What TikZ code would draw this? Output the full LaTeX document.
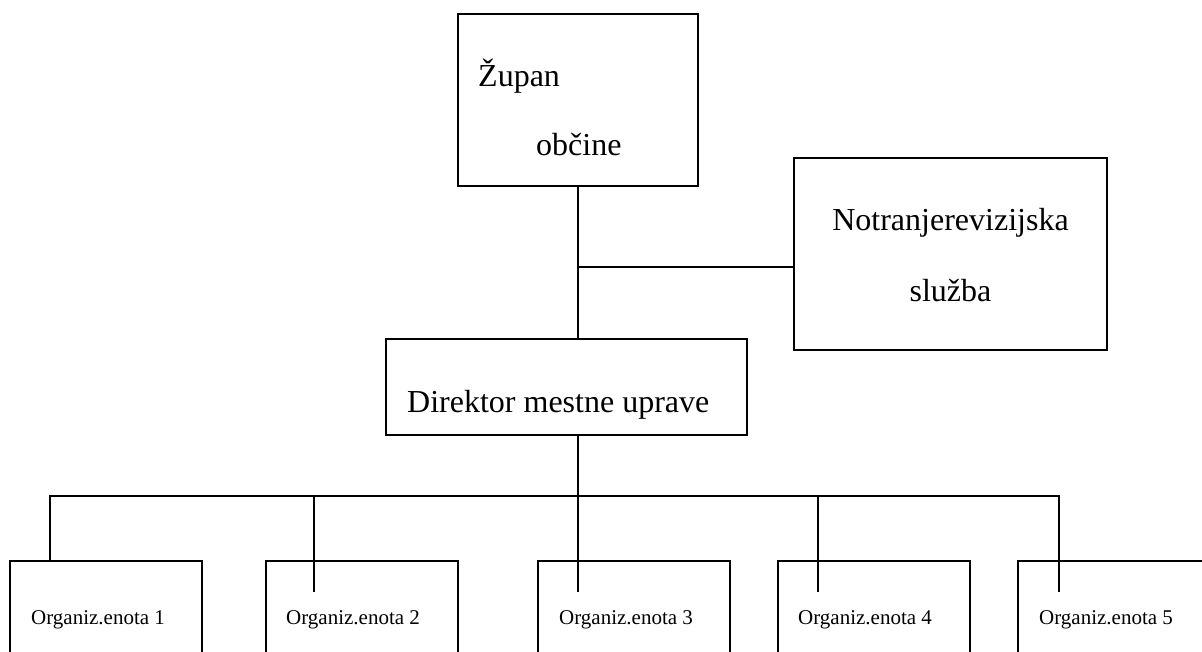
\documentclass[tikz,border=0pt]{standalone}
\usepackage{fontspec}
\setmainfont{Liberation Serif}
\begin{document}
\begin{tikzpicture}[x=1pt,y=-1pt,
  box/.style={draw, line width=1.6pt, inner sep=0pt, minimum width=#1},
  conn/.style={line width=1.6pt},
  big/.style={inner sep=0pt, anchor=base west, font=\fontsize{32}{38}\selectfont},
  small/.style={inner sep=0pt, anchor=base west, font=\fontsize{21}{25}\selectfont}]
\useasboundingbox (0,0) rectangle (1202,651);
\clip (0,0) rectangle (1202,651);
% top boxes
\node[box=240pt, minimum height=172pt] (zup) at (578,100) {};
\node[big] (zupt1) at (478,86) {Župan};
\node[big] (zupt2) at (536,155) {občine};
\node[box=313pt, minimum height=192pt] (notr) at (950.5,254) {};
\node[big, anchor=base] (notrt1) at (950.5,230) {Notranjerevizijska};
\node[big, anchor=base] (notrt2) at (950.5,301) {služba};
\node[box=361pt, minimum height=96pt] (dir) at (566.5,387) {};
\node[big] (dirt) at (407,412) {Direktor mestne uprave};
% bottom boxes
\foreach \i/\cx/\tx in {1/106/31, 2/362/286, 3/634/559, 4/874/798, 5/1114/1039}{
  \node[box=192pt, minimum height=120pt] (ou\i) at (\cx,621) {};
  \node[small] (out\i) at (\tx,624) {Organiz.enota \i};
}
% connectors
\coordinate (j1) at (578,267);
\coordinate (bus) at (578,496);
\draw[conn] (zup.south) -- (zup.south |- dir.north);
\draw[conn] (j1) -- (j1 -| notr.west);
\draw[conn] (zup.south |- dir.south) -- (bus);
\coordinate (b1) at (50,496);
\coordinate (b5) at (1059,496);
\draw[conn] (b1 |- ou1.north) -- (b1) -- (b5) -- (1059,592);
\foreach \x in {314,578,818}{
  \draw[conn] (\x,496) -- (\x,592);
}
\end{tikzpicture}
\end{document}
